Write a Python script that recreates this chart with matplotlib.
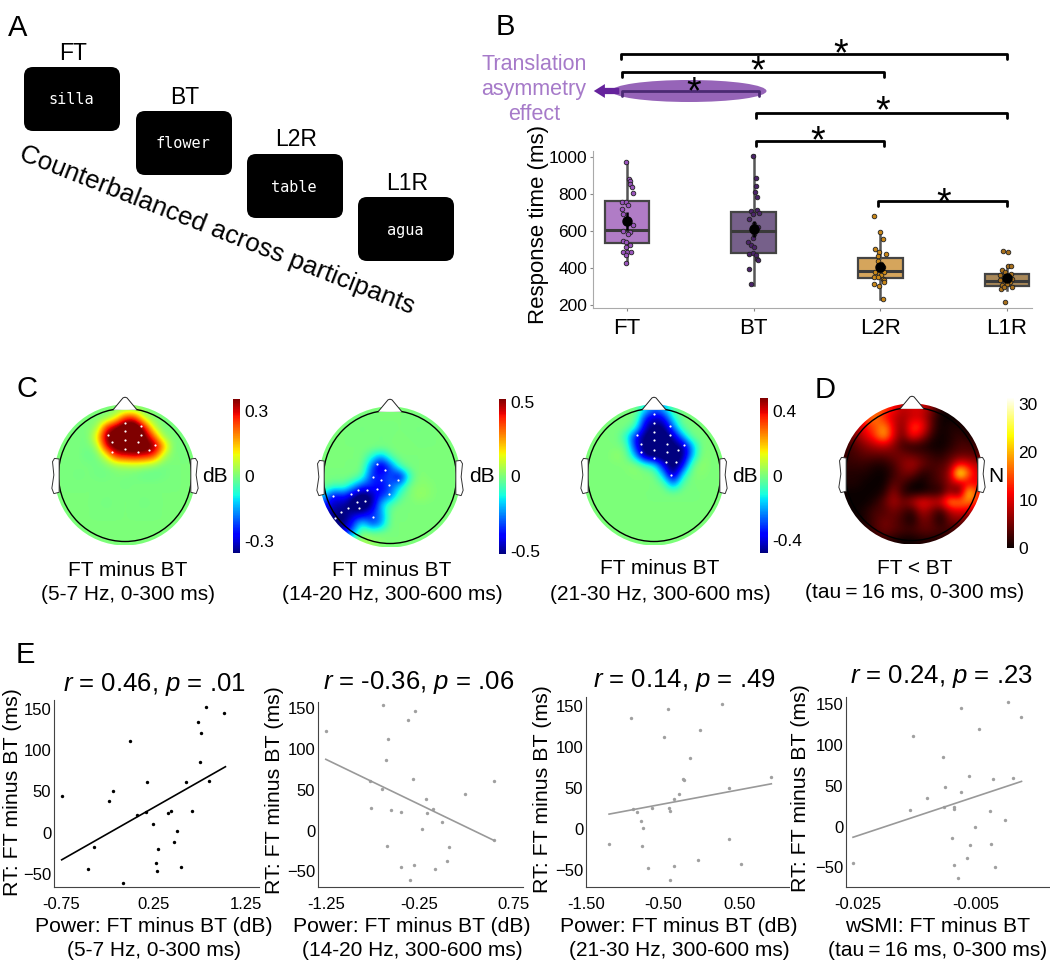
import numpy as np
import matplotlib
matplotlib.use("Agg")
from matplotlib import pyplot as plt
from matplotlib.patches import Circle, Ellipse, FancyBboxPatch, Polygon

plt.rcParams['font.family'] = ['Liberation Sans', 'DejaVu Sans']
plt.rcParams['mathtext.fontset'] = 'custom'
plt.rcParams['mathtext.it'] = 'Liberation Sans:italic'
plt.rcParams['mathtext.rm'] = 'Liberation Sans'

W, H = 1050, 963

# panel A
stim_words = ['silla', 'flower', 'table', 'agua']
stim_names = ['FT', 'BT', 'L2R', 'L1R']

# panel B
cond_names = ['FT', 'BT', 'L2R', 'L1R']
box_q1 = [533, 480, 348, 305]
box_med = [605, 598, 383, 330]
box_q3 = [760, 705, 453, 370]
box_low = [425, 310, 230, 283]
box_high = [975, 1010, 595, 410]
rt_mean = [655, 612, 405, 345]
rt_err = [50, 42, 22, 12]
box_fill = ['#b07cc6', '#76608a', '#d5a55c', '#a98858']
dot_fill = ['#9a55bd', '#4a2368', '#c98718', '#a8701c']

ft_rt = [973, 883, 870, 852, 835, 806, 759, 755, 741, 718, 694, 631, 601, 595, 586, 547, 541, 523, 514, 487, 485, 487, 469, 427]
ft_jit = [-.005, .016, .026, .021, .037, .047, -.037, -.005, .011, -.042, -.032, .047, -.032, .026, .008, -.032, -.005, .021, -.011, 0, -.032, .034, -.005, -.005]
bt_rt = [1007, 888, 844, 808, 784, 710, 712, 690, 698, 664, 640, 619, 604, 583, 563, 538, 523, 514, 478, 482, 469, 451, 442, 394, 311]
bt_jit = [-.005, .021, .016, .011, .026, -.021, .026, -.005, .039, -.039, .003, .034, -.013, .005, -.003, -.045, -.024, .003, -.034, -.003, .018, .024, .034, -.034, -.021]
l2_rt = [680, 594, 555, 505, 487, 473, 464, 439, 424, 406, 379, 379, 370, 361, 349, 349, 343, 334, 316, 304, 325, 232]
l2_jit = [-.047, 0, .018, -.039, -.008, .045, -.021, -.021, .005, .018, -.042, .032, -.008, .005, -.053, -.021, .018, .032, -.047, -.008, .026, .024]
l1_rt = [494, 484, 388, 410, 410, 370, 361, 379, 343, 352, 343, 334, 325, 325, 307, 313, 298, 284, 298, 217]
l1_jit = [-.029, .008, -.039, .008, .032, .032, -.053, -.013, -.026, .005, .039, -.053, -.013, .026, -.039, 0, .039, -.047, -.021, -.013]

# panel C and D, values on a coarse scalp grid (top row = front of head)
theta_map = np.array([
    [0, 0, 0, 0, 0, 0, 0, 0, 0, 0, 0, 0, 0, 0, 0],
    [0, 0, 0, 0, 0, 0, 8, 28, 28, 5, 0, 0, 0, 0, 0],
    [0, 0, 0, 0, 2, 28, 38, 44, 46, 32, 6, -1, 0, 0, 0],
    [0, 0, 0, -1, 12, 38, 40, 46, 48, 38, 24, 2, 0, 0, 0],
    [0, 0, 0, -1, 3, 32, 40, 40, 42, 40, 38, 20, -1, 0, 0],
    [0, 0, 0, -2, -1, 8, 28, 30, 32, 30, 26, 5, 0, 0, 0],
    [0, 0, 0, 0, -1, 0, 2, 3, 4, 3, 1, -1, 0, 0, 0],
    [0, 0, -1, 0, -1, -1, 0, 0, -1, -2, -2, -1, 0, 0, 0],
    [0, 0, 0, 0, 0, 0, 0, -1, 0, 0, 0, 0, 0, 0, 0],
    [0, 0, 0, 0, 0, 0, 0, 0, 0, 0, 0, 0, 0, 0, 0],
    [0, 0, 0, 0, 0, -1, 0, 0, 0, -1, 0, 0, 0, 0, 0],
    [0, 0, 0, 0, 0, 0, 0, 0, 0, 0, 0, 0, 0, 0, 0],
    [0, 0, 0, 0, 0, 0, 0, 0, 0, 0, 0, 0, 0, 0, 0],
    [0, 0, 0, 0, 0, 0, 0, 0, 0, 0, 0, 0, 0, 0, 0],
    [0, 0, 0, 0, 0, 0, 0, 0, 0, 0, 0, 0, 0, 0, 0]]) / 100
beta_low_map = np.array([
    [0, 0, 0, 0, 0, 0, 0, 0, 0, 0, 0, 0, 0, 0, 0],
    [0, 0, 0, 0, 0, 0, 0, 0, 0, 0, 0, 0, 0, 0, 0],
    [0, 0, 0, 0, -1, 0, 0, 0, 0, 0, -1, 0, 0, 0, 0],
    [0, 0, 0, 0, 0, 0, -1, 0, 0, 0, 0, 0, 0, 0, 0],
    [0, 0, 0, 0, 0, 0, 0, 0, 1, 0, 0, 0, 0, 0, 0],
    [0, 0, 0, 0, 0, -12, -28, -6, 0, 0, 0, 0, 0, 0, 0],
    [0, 0, 0, 0, 0, -30, -50, -34, -6, 0, 0, 0, 0, 0, 0],
    [0, 0, 0, 0, -6, -36, -36, -28, -50, -10, 2, 0, 0, 0, 0],
    [0, -6, -4, -18, -34, -34, -42, -30, -18, 0, 2, 2, 0, 0, 0],
    [-18, -42, -34, -48, -58, -50, -36, -30, -5, 0, 4, 2, 0, 0, 0],
    [-36, -48, -48, -58, -62, -52, -18, -4, 0, 0, 0, 0, 0, 0, 0],
    [-48, -50, -54, -46, -46, -34, -26, 0, 0, 0, 0, 0, 0, 0, 0],
    [-50, -54, -54, -36, -12, -36, -26, 0, 0, 0, 0, 0, 0, 0, 0],
    [-36, -48, -42, -26, 3, 0, 1, 0, 0, 0, 0, 0, 0, 0, 0],
    [0, -12, -12, 3, 6, 3, 1, 0, 0, 0, 0, 0, 0, 0, 0]]) / 100
beta_high_map = np.array([
    [0, 0, 0, 0, 0, 0, -12, -26, -18, -2, 0, 0, 0, 0, 0],
    [0, 0, 0, 0, 0, 0, -34, -44, -38, -12, 0, 0, 0, 0, 0],
    [0, 0, 0, 0, 0, -8, -44, -50, -50, -26, -2, 0, 0, 0, 0],
    [0, 0, 0, 0, -10, -38, -50, -54, -54, -46, -22, 0, 0, 0, 0],
    [0, 0, 0, 0, -2, -36, -52, -54, -54, -50, -48, -22, 1, 0, 0],
    [0, 0, 0, 3, 0, -20, -52, -54, -54, -52, -50, -20, 2, 0, 0],
    [0, 0, 0, 0, 1, 3, -5, -12, -40, -54, -40, -2, 3, 0, 0],
    [0, 0, 0, 0, 0, 1, 1, 0, -20, -52, -14, 1, 1, 0, 0],
    [0, 0, 0, 0, 0, 0, 0, 0, -2, -26, -2, 0, 0, 0, 0],
    [0, 0, 0, 0, 0, 0, 0, 0, 0, 0, 0, 0, 0, 0, 0],
    [0, 0, 0, 0, 0, 0, 0, 0, 0, 0, 0, 0, 0, 0, 0],
    [0, 0, 0, 0, 0, 0, 0, 0, 0, 0, 0, 0, 0, 0, 0],
    [0, 0, 0, 0, 0, 0, 0, 0, 0, 0, 0, 0, 0, 0, 0],
    [0, 0, 0, 0, 0, 0, 0, 0, 0, 0, 0, 0, 0, 0, 0],
    [0, 0, 0, 0, 0, 0, 0, 0, 0, 0, 0, 0, 0, 0, 0]]) / 100
wsmi_map = np.array([
    [0, 0, 0, 18, 15, 12, 8, 10, 10, 6, 1, 0, 0, 0, 0],
    [0, 0, 16, 18, 12, 9, 7, 9, 9, 4, 0, 0, 0, 0, 0],
    [3, 8, 12, 15, 19, 10, 5, 15, 13, 4, 0, 1, 1, 0, 0],
    [3, 6, 10, 14, 21, 10, 4, 13, 8, 2, 0, 1, 2, 1, 0],
    [2, 4, 6, 8, 9, 6, 2, 1, 1, 0, 0, 1, 3, 3, 2],
    [2, 3, 4, 4, 4, 5, 5, 4, 3, 2, 1, 3, 4, 4, 3],
    [2, 2, 2, 1, 1, 3, 6, 8, 5, 3, 3, 5, 12, 10, 8],
    [1, 1, 1, 0, 0, 2, 5, 5, 1, 2, 4, 7, 30, 16, 9],
    [1, 1, 0, 0, 0, 4, 3, 0, 0, 2, 3, 7, 9, 9, 11],
    [0, 0, 0, 0, 1, 7, 1, 0, 0, 1, 1, 7, 1, 26, 12],
    [0, 0, 0, 1, 4, 8, 5, 8, 12, 10, 10, 20, 18, 18, 12],
    [0, 0, 1, 3, 3, 5, 3, 1, 8, 5, 1, 8, 10, 9, 6],
    [0, 0, 1, 3, 5, 4, 2, 0, 5, 4, 0, 5, 6, 3, 1],
    [0, 0, 1, 3, 5, 4, 3, 3, 4, 4, 3, 3, 2, 0, 0],
    [0, 0, 0, 1, 2, 1, 0, 0, 1, 1, 1, 1, 0, 0, 0]])

# significant electrodes
theta_x = [-.25, 0, .24, 0, .24, -.2, 0, .19, .45, -.2, 0, .19, .36]
theta_y = [.60, .78, .74, .66, .60, .49, .52, .49, .45, .34, .39, .34, .37]
beta_low_x = [-.19, -.08, -.26, -.13, .12, -.01, -.19, -.34, -.01, -.48, -.59, -.86, -.37, -.49, -.63, -.46, -.73, -.83, -.25]
beta_low_y = [.19, .11, 0, -.04, -.04, -.12, -.18, -.19, -.26, -.2, -.25, -.28, -.36, -.38, -.46, -.46, -.53, -.61, -.6]
beta_high_x = [0, 0, .24, 0, .24, -.25, -.2, 0, .19, .45, -.19, 0, .19, .36, 0, .18, .33, .26]
beta_high_y = [.91, .78, .74, .65, .6, .6, .47, .52, .47, .45, .34, .38, .34, .37, .26, .19, .19, 0]

# panel E
e1_x = [-.74, .825, 1.02, .73, .77, 0, .75, .85, .18, .6, -.19, -.23, .07, .17, .41, .44, .67, .25, .51, .47, -.39, .3, .28, -.46, .55, .29, -.08]
e1_y = [44, 152, 145, 134, 121, 111, 86, 63, 61, 61, 50, 38, 21, 25, 24, 26, 26, 11, 2, -11, -18, -20, -37, -44, -42, -46, -61]
e1_fit_x, e1_fit_y = [-.74, 1.03], [-33, 80]
e2_x = [-1.25, -.64, -.30, -.37, -.59, -.61, -.32, -.78, .54, -.65, .23, -.18, -.77, -.56, -.45, -.11, -.17, -.01, -.23, .54, -.6, .06, .04, -.45, -.31, -.09, -.35]
e2_y = [121, 153, 146, 135, 112, 86, 63, 61, 61, 51, 45, 38, 27, 25, 23, 26, 21, 11, 2, -12, -19, -20, -37, -44, -42, -47, -61]
e2_fit_x, e2_fit_y = [-1.25, .54], [87, -12]
e3_x = [-1.2, -.91, -.44, .27, -.02, -.48, -.15, -.24, .9, .36, -.29, -.35, -.89, -.84, -.64, -.42, -.41, -.79, -.76, .36, -.77, -.04, .52, -.35, -.69, -.41, -.23]
e3_y = [-19, 135, 146, 153, 121, 112, 86, 61, 63, 50, 43, 37, 24, 21, 25, 26, 22, 10, 1, -12, -21, -38, -43, -45, -48, -62, 60]
e3_fit_x, e3_fit_y = [-1.2, .91], [18, 55]
e4_x = [-.0259, -.0074, .0006, .0028, -.0043, -.0157, -.0106, -.006, -.002, .0015, -.0102, -.0075, -.0132, -.0162, -.0104, -.0086, -.0086, -.0025, 0, -.0051, -.009, -.0023, -.0059, -.0064, -.0086, -.0017, -.008]
e4_y = [-45, 145, 153, 134, 120, 111, 85, 62, 59, 60, 49, 42, 35, 21, 24, 24, 22, 19, 8, -1, -14, -21, -23, -39, -47, -49, -63]
e4_fit_x, e4_fit_y = [-.0259, .0029], [-13, 55.5]

fig = plt.figure(figsize=(W / 100, H / 100), dpi=100)


def px_axes(x0, y0, x1, y1):
    # axes from pixel box, y counted from the top of the image
    return fig.add_axes([x0 / W, 1 - y1 / H, (x1 - x0) / W, (y1 - y0) / H])


over = fig.add_axes([0, 0, 1, 1], zorder=20)
over.set_xlim(0, W)
over.set_ylim(H, 0)
over.axis('off')
over.patch.set_alpha(0)


def label(x, y, s, size=15, **kw):
    over.text(x, y, s, fontsize=size, ha=kw.pop('ha', 'center'), va=kw.pop('va', 'center'), **kw)


for s, x, y in zip('ABCDE', [18, 505, 27, 825, 25], [28, 27, 389, 390, 655]):
    label(x, y, s, size=21)

# A
box_x = [24, 136, 247, 358]
box_y = [67, 111, 154, 197]
for i in range(4):
    over.add_patch(FancyBboxPatch((box_x[i], box_y[i]), 96, 64, boxstyle='round,pad=0,rounding_size=9',
                                  fc='black', ec='none'))
    label(box_x[i] + 47, box_y[i] + 33, stim_words[i], size=11, color='white', family='DejaVu Sans Mono')
    label(box_x[i] + 49, box_y[i] - 14, stim_names[i], size=16.5)
label(217, 230, 'Counterbalanced across participants', size=18.7, rotation=-21.5, rotation_mode='anchor')

# B
ax = px_axes(593, 151, 1032, 308)
px_unit = 126.7
ax.set_xlim(-34 / px_unit, 3 + 25 / px_unit)
ax.set_ylim(184, 1032)
stats = [dict(med=box_med[i], q1=box_q1[i], q3=box_q3[i], whislo=box_low[i], whishi=box_high[i], fliers=[]) for i in range(4)]
bp = ax.bxp(stats, positions=range(4), widths=.35, patch_artist=True, showcaps=False, showfliers=False,
            boxprops=dict(edgecolor='#444444', linewidth=1.6), medianprops=dict(color='#3a3a3a', linewidth=2.2),
            whiskerprops=dict(color='#555555', linewidth=1.8))
for p, c in zip(bp['boxes'], box_fill):
    p.set_facecolor(c)
all_rt = [ft_rt, bt_rt, l2_rt, l1_rt]
all_jit = [ft_jit, bt_jit, l2_jit, l1_jit]
for i in range(4):
    ax.scatter(i + np.array(all_jit[i]), all_rt[i], s=11, c=dot_fill[i], edgecolors='#222222', linewidths=.6, zorder=4)
ax.errorbar(range(4), rt_mean, yerr=rt_err, fmt='o', color='black', ms=6.5, elinewidth=1.8, zorder=5)
ax.set_xticks(range(4))
ax.set_xticklabels(cond_names, fontsize=16)
ax.set_yticks([200, 400, 600, 800, 1000])
ax.tick_params(axis='y', labelsize=12.5, length=2, pad=2, color='#888888')
ax.tick_params(axis='x', length=2, pad=5, color='#888888')
ax.set_ylabel('Response time (ms)', fontsize=16, labelpad=0, y=.53)
for sp in ['top', 'right']:
    ax.spines[sp].set_visible(False)
for sp in ['left', 'bottom']:
    ax.spines[sp].set_color('#aaaaaa')

over.add_patch(Ellipse((689, 91), 155, 22, fc='#9664b8', ec='none'))
over.annotate('', xy=(591, 91), xytext=(622, 91),
              arrowprops=dict(arrowstyle='simple,head_width=1.0,head_length=.8,tail_width=.45', color='#65239c', lw=0))
bracket_x0 = [621, 622, 622, 756, 756, 878]
bracket_x1 = [1007, 884, 759, 1007, 884, 1007]
bracket_y = [54, 72, 91, 113, 141, 201]
bracket_c = ['black', 'black', '#4b2a73', 'black', 'black', 'black']
star_x = [841, 758, 694, 883, 818, 944]
star_y = [47, 64, 85, 104, 134, 196]
for i in range(6):
    over.plot([bracket_x0[i], bracket_x0[i], bracket_x1[i], bracket_x1[i]],
              [bracket_y[i] + 5, bracket_y[i], bracket_y[i], bracket_y[i] + 5], color=bracket_c[i], lw=2, solid_capstyle='round')
    label(star_x[i], star_y[i] + 8, '*', size=27, color='black')
for s, y in zip(['Translation', 'asymmetry', 'effect'], [65, 90, 114]):
    label(534, y, s, size=15.5, color='#a67ac9')


def head(cx, cy, grid, vmax, cmap, xs=None, ys=None, vmin=None):
    r = 66.5
    a = px_axes(cx - 90, cy - 90, cx + 90, cy + 90)
    a.set_xlim(-90 / r, 90 / r)
    a.set_ylim(-90 / r, 90 / r)
    a.axis('off')
    im = a.imshow(grid, extent=[-1.06, 1.06, -1.06, 1.06], cmap=cmap, vmin=-vmax if vmin is None else vmin, vmax=vmax,
                  interpolation='bicubic', aspect='auto')
    im.set_clip_path(Circle((0, 0), 1.06, transform=a.transData))
    a.set_xlim(-90 / r, 90 / r)
    a.set_ylim(-90 / r, 90 / r)
    a.add_patch(Circle((0, 0), 1, fc='none', ec='black', lw=1))
    a.add_patch(Polygon([(-.18, .98), (-.08, 1.1), (-.03, 1.16), (0, 1.17), (.03, 1.16), (.08, 1.1), (.18, .98)],
                        closed=False, fc='white', ec='#222222', lw=.7, zorder=1))
    for side in [-1, 1]:
        a.add_patch(Polygon([(side * .99, .24), (side * 1.06, .25), (side * 1.09, .2), (side * 1.07, 0), (side * 1.1, -.2),
                             (side * 1.07, -.28), (side * .99, -.26)], fc='white', ec='#333333', lw=.7, zorder=1))
    if xs is not None:
        a.scatter(xs, ys, s=2.5, c='white', zorder=5, linewidths=0)
    return im


def cbar(im, x0, y0, x1, y1, ticks, names):
    c = px_axes(x0, y0, x1, y1)
    cb = fig.colorbar(im, cax=c)
    cb.set_ticks(ticks)
    cb.set_ticklabels(names)
    cb.outline.set_visible(False)
    c.tick_params(length=0, labelsize=12.5, pad=3)


im = head(125, 475, theta_map, .355, 'jet', theta_x, theta_y)
cbar(im, 233, 399, 240, 553, [-.3, 0, .3], ['-0.3', '0', '0.3'])
im = head(390, 477, beta_low_map, .52, 'jet', beta_low_x, beta_low_y)
cbar(im, 499, 399, 506, 554, [-.5, 0, .5], ['-0.5', '0', '0.5'])
im = head(654, 475, beta_high_map, .48, 'jet', beta_high_x, beta_high_y)
cbar(im, 760, 398, 768, 553, [-.4, 0, .4], ['-0.4', '0', '0.4'])
im = head(912, 474, wsmi_map, 31.5, 'hot', vmin=0)
cbar(im, 1007, 397, 1014, 548, [0, 10, 20, 30], ['0', '10', '20', '30'])

for x, s in zip([215, 482, 745], ['dB', 'dB', 'dB']):
    label(x, 477, s)
label(996, 476, 'N')
sub_x = [128, 392, 660, 915]
sub_y = [570, 570, 569, 568]
sub_a = ['FT minus BT', 'FT minus BT', 'FT minus BT', 'FT < BT']
sub_b = ['(5-7 Hz, 0-300 ms)', '(14-20 Hz, 300-600 ms)', '(21-30 Hz, 300-600 ms)', '(tau\u2009=\u200916 ms, 0-300 ms)']
for i in range(4):
    label(sub_x[i], sub_y[i], sub_a[i])
    label(sub_x[i], sub_y[i] + 25, sub_b[i])

# E
boxes = [(54, 700, 259, 887), (318, 702, 523, 887), (586, 697, 789, 887), (846, 697, 1049, 887)]
xlims = [(-.823, 1.393), (-1.333, .851), (-1.457, 1.14), (-.0271, .0076)]
ylims = [(-66, 161), (-69, 157), (-71, 161), (-74, 159)]
xticks = [[-.75, .25, 1.25], [-1.25, -.25, .75], [-1.5, -.5, .5], [-.025, -.005]]
xnames = [['-0.75', '0.25', '1.25'], ['-1.25', '-0.25', '0.75'], ['-1.50', '-0.50', '0.50'], ['-0.025', '-0.005']]
scatter_x = [e1_x, e2_x, e3_x, e4_x]
scatter_y = [e1_y, e2_y, e3_y, e4_y]
fit_x = [e1_fit_x, e2_fit_x, e3_fit_x, e4_fit_x]
fit_y = [e1_fit_y, e2_fit_y, e3_fit_y, e4_fit_y]
dot_c = ['black', '#a0a0a0', '#a0a0a0', '#a0a0a0']
line_c = ['black', '#999999', '#999999', '#999999']
r_text = ['0.46', '-0.36', '0.14', '0.24']
p_text = ['.01', '.06', '.49', '.23']
title_x = [154, 419, 684, 941]
title_y = [684, 683, 681, 677]
xlab_x = [154, 412, 679, 938]
xlab_a = ['Power: FT minus BT (dB)', 'Power: FT minus BT (dB)', 'Power: FT minus BT (dB)', 'wSMI: FT minus BT']
ylab_x = [13, 275, 542, 801]
ylab_y = [792, 790, 789, 788]
for i in range(4):
    a = px_axes(*boxes[i])
    a.scatter(scatter_x[i], scatter_y[i], s=6, c=dot_c[i], linewidths=0)
    a.plot(fit_x[i], fit_y[i], color=line_c[i], lw=1.2)
    a.set_xlim(xlims[i])
    a.set_ylim(ylims[i])
    a.set_xticks(xticks[i])
    a.set_xticklabels(xnames[i])
    a.set_yticks([-50, 0, 50, 100, 150])
    a.tick_params(length=0, labelsize=12, pad=2)
    a.tick_params(axis='x', pad=7)
    for sp in ['top', 'right']:
        a.spines[sp].set_visible(False)
    for sp in ['left', 'bottom']:
        a.spines[sp].set_color('#444444')
    label(title_x[i], title_y[i], '$\\mathit{r}$ = ' + r_text[i] + ', $\\mathit{p}$ = ' + p_text[i], size=18.5)
    label(xlab_x[i], 926, xlab_a[i], size=15.2)
    label(xlab_x[i], 951, sub_b[i], size=15)
    label(ylab_x[i], ylab_y[i], 'RT: FT minus BT (ms)', size=15.4, rotation=90)

plt.savefig("out.png", dpi=100)
